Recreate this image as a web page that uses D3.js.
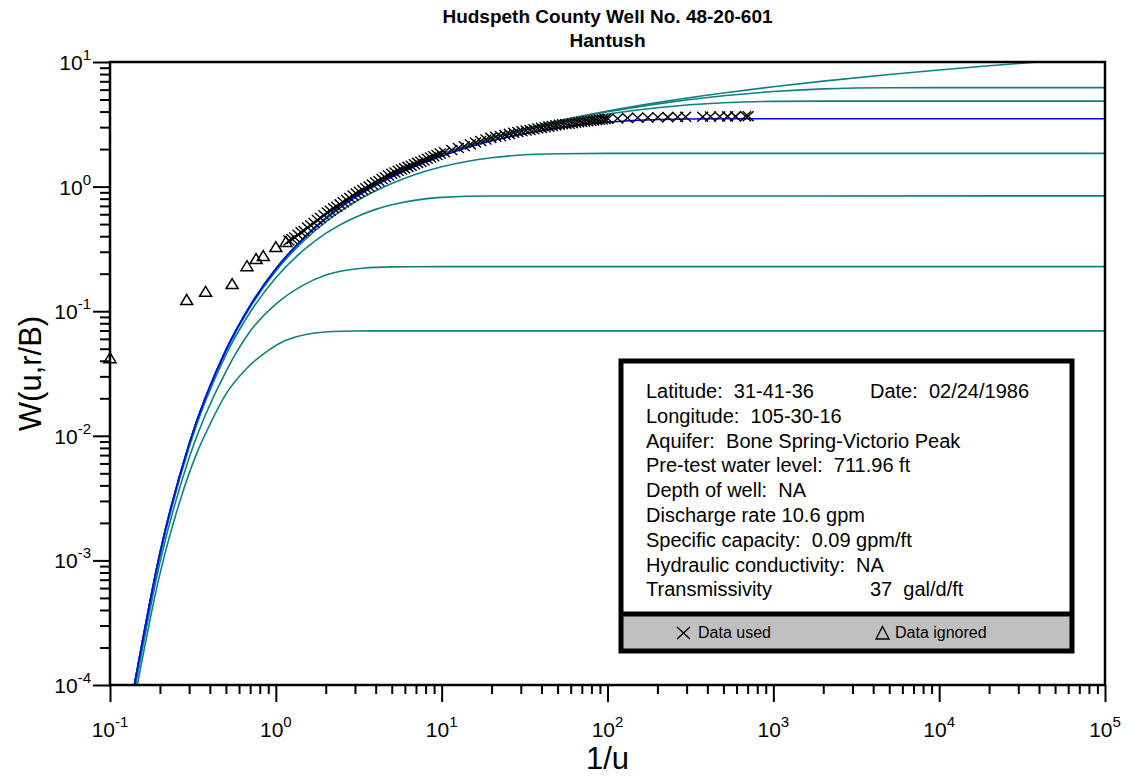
<!DOCTYPE html>
<html>
<head>
<meta charset="utf-8">
<script src="https://cdn.jsdelivr.net/npm/d3@7"></script>
<style>
body { margin: 0; background: #fff; }
svg { display: block; font-family: Arial, "Liberation Sans", sans-serif; }
</style>
</head>
<body>
<script>
// ---- type curves W(u, r/B): x is 1/u ----
let theisU = [0.14, 0.2, 0.3, 0.5, 0.7, 1, 1.5, 2, 3, 5, 7, 10, 20, 30, 50, 100, 200, 500, 1000, 2000, 5000, 10000, 20000, 40000];
let theisW = [0.000099, 0.00115, 0.0086, 0.0489, 0.111, 0.219, 0.398, 0.560, 0.829, 1.223, 1.507, 1.823, 2.468, 2.857, 3.355, 4.038, 4.726, 5.639, 6.332, 7.024, 7.940, 8.633, 9.326, 10.02];

let rb005U = [0.14, 0.2, 0.3, 0.5, 0.7, 1, 1.5, 2, 3, 5, 7, 10, 20, 30, 50, 100, 200, 500, 1000, 2000, 5000, 10000, 100000];
let rb005W = [0.0000988, 0.00115, 0.0086, 0.0489, 0.111, 0.219, 0.398, 0.560, 0.828, 1.221, 1.504, 1.818, 2.458, 2.841, 3.326, 3.985, 4.613, 5.355, 5.797, 6.082, 6.219, 6.228, 6.2285];

let rb01U = [0.14, 0.2, 0.3, 0.5, 0.7, 1, 1.5, 2, 3, 5, 7, 10, 20, 30, 50, 100, 200, 500, 1000, 2000, 10000, 100000];
let rb01W = [0.0000985, 0.00115, 0.0086, 0.0488, 0.1109, 0.2190, 0.397, 0.558, 0.826, 1.2155, 1.495, 1.805, 2.427, 2.793, 3.245, 3.820, 4.297, 4.707, 4.829, 4.853, 4.854, 4.854];

let rb02U = [0.14, 0.2, 0.3, 0.5, 0.7, 1, 1.5, 2, 3, 5, 7, 10, 20, 30, 50, 100, 200, 500, 1000, 100000];
let rb02W = [0.0000985, 0.00114, 0.0086, 0.0487, 0.1105, 0.2179, 0.394, 0.553, 0.816, 1.195, 1.463, 1.753, 2.33, 2.615, 2.957, 3.288, 3.457, 3.504, 3.505, 3.505];

let rb05U = [0.14, 0.2, 0.3, 0.5, 0.7, 1, 1.5, 2, 3, 5, 7, 10, 20, 30, 50, 100, 100000];
let rb05W = [0.0000982, 0.001134, 0.00849, 0.0477, 0.1076, 0.210, 0.3755, 0.521, 0.752, 1.057, 1.254, 1.441, 1.706, 1.791, 1.836, 1.8475, 1.8478];

let rb1U = [0.14, 0.2, 0.3, 0.5, 0.7, 1, 1.5, 2, 3, 4, 5, 7, 10, 20, 100000];
let rb1W = [0.0000958, 0.00109, 0.0081, 0.0445, 0.098, 0.1855, 0.316, 0.421, 0.566, 0.6565, 0.7147, 0.779, 0.819, 0.841, 0.842];

let rb2U = [0.14, 0.2, 0.3, 0.5, 0.7, 1, 1.43, 2, 3.33, 5, 10, 100000];
let rb2W = [0.0000868, 0.00096, 0.00667, 0.0328, 0.069, 0.1139, 0.159, 0.195, 0.2211, 0.2268, 0.2278, 0.2278];

let rb3U = [0.14, 0.2, 0.25, 0.333, 0.4, 0.5, 0.667, 0.889, 1.11, 1.333, 1.78, 2.22, 3, 5, 100000];
let rb3W = [0.0000737, 0.00078, 0.00236, 0.0072, 0.0123, 0.0216, 0.0347, 0.0479, 0.0572, 0.0623, 0.0671, 0.0687, 0.0694, 0.0695, 0.0695];

// ---- field data (x = 1/u, y = W) ----
let usedU = [1.20, 1.25, 1.30, 1.36, 1.42, 1.48, 1.55, 1.62, 1.70, 1.78, 1.86, 1.95, 2.04, 2.13, 2.23, 2.33, 2.44, 2.55, 2.67, 2.79, 2.92, 3.05, 3.19, 3.34, 3.49, 3.65, 3.82, 4.00, 4.18, 4.37, 4.57, 4.78, 5.00, 5.23, 5.47, 5.72, 5.98, 6.26, 6.55, 6.85, 7.16, 7.49, 7.83, 8.19, 8.57, 8.96, 9.37, 9.80,
    10.4, 11.5, 12.6, 13.7, 14.9, 16.0, 17.2, 18.5, 19.8, 21.2, 22.6, 24.1, 25.6, 27.2, 28.8, 30.5, 32.3, 34.1, 36.0, 38.0, 40.0, 42.1, 44.3, 46.5, 48.8, 51.2, 53.6, 56.1, 58.7, 61.4, 64.2, 67.0, 69.9, 72.9, 76.0, 79.2, 82.5, 85.9, 89.4, 93.0, 96.7,
    100.6, 115, 132, 152, 175, 201, 231, 265, 296, 375, 418, 475, 530, 592, 680, 705];
let usedW = [0.37, 0.38, 0.39, 0.41, 0.43, 0.44, 0.47, 0.49, 0.51, 0.54, 0.56, 0.59, 0.62, 0.64, 0.67, 0.69, 0.72, 0.75, 0.78, 0.81, 0.85, 0.88, 0.91, 0.94, 0.97, 1.00, 1.04, 1.08, 1.11, 1.15, 1.19, 1.23, 1.27, 1.30, 1.34, 1.37, 1.40, 1.44, 1.47, 1.51, 1.55, 1.58, 1.62, 1.67, 1.71, 1.75, 1.79, 1.84,
    1.89, 1.97, 2.04, 2.11, 2.19, 2.26, 2.32, 2.39, 2.46, 2.51, 2.55, 2.60, 2.65, 2.70, 2.74, 2.78, 2.82, 2.85, 2.89, 2.93, 2.96, 3.00, 3.03, 3.07, 3.10, 3.13, 3.16, 3.18, 3.20, 3.23, 3.25, 3.28, 3.30, 3.33, 3.35, 3.38, 3.40, 3.42, 3.44, 3.46, 3.48,
    3.50, 3.52, 3.55, 3.57, 3.58, 3.60, 3.61, 3.62, 3.63, 3.64, 3.65, 3.65, 3.66, 3.66, 3.67, 3.67];

let ignoredU = [0.10, 0.29, 0.377, 0.545, 0.67, 0.76, 0.84, 1.0, 1.15];
let ignoredW = [0.042, 0.123, 0.143, 0.165, 0.23, 0.262, 0.277, 0.327, 0.36];

let xTickExp = [-1, 0, 1, 2, 3, 4, 5];
let yTickExp = [-4, -3, -2, -1, 0, 1];

let titleLines = ["Hudspeth County Well No. 48-20-601", "Hantush"];
let infoLines = ["Latitude:  31-41-36", "Longitude:  105-30-16", "Aquifer:  Bone Spring-Victorio Peak",
    "Pre-test water level:  711.96 ft", "Depth of well:  NA", "Discharge rate 10.6 gpm",
    "Specific capacity:  0.09 gpm/ft", "Hydraulic conductivity:  NA", "Transmissivity"];
let infoRight = [[0, "Date:  02/24/1986"], [8, "37  gal/d/ft"]];

let width = 1128, height = 776;
let margin = {top: 62, right: 23, bottom: 91, left: 110};
let teal = "#0e8080";

let svg = d3.select("body").append("svg")
    .attr("width", width)
    .attr("height", height);

let x = d3.scaleLog().domain([0.1, 1e5]).range([margin.left, width - margin.right]);
let y = d3.scaleLog().domain([1e-4, 10]).range([height - margin.bottom, margin.top]);

svg.append("clipPath").attr("id", "plot")
    .append("rect")
    .attr("x", margin.left).attr("y", margin.top)
    .attr("width", width - margin.left - margin.right)
    .attr("height", height - margin.top - margin.bottom);

// ---- axes: major + minor ticks ----
let xMajor = xTickExp.map(e => Math.pow(10, e));
let yMajor = yTickExp.map(e => Math.pow(10, e));
let xMinor = [], yMinor = [];
for (let e of xTickExp.slice(0, -1)) for (let k = 2; k <= 9; k++) xMinor.push(k * Math.pow(10, e));
for (let e of yTickExp.slice(0, -1)) for (let k = 2; k <= 9; k++) yMinor.push(k * Math.pow(10, e));

function tickAxis(axis, values, size) {
    return g => g.call(axis.tickValues(values).tickSize(size).tickFormat(""))
        .call(g => g.select(".domain").remove())
        .call(g => g.selectAll("line").attr("stroke", "#000").attr("stroke-width", 2));
}

let yBase = height - margin.bottom;
svg.append("g").attr("transform", `translate(0,${yBase})`).call(tickAxis(d3.axisBottom(x), xMajor, 17));
svg.append("g").attr("transform", `translate(0,${yBase})`).call(tickAxis(d3.axisBottom(x), xMinor, 9));
svg.append("g").attr("transform", `translate(${margin.left},0)`).call(tickAxis(d3.axisLeft(y), yMajor, 17));
svg.append("g").attr("transform", `translate(${margin.left},0)`).call(tickAxis(d3.axisLeft(y), yMinor, 10));

// tick labels with superscript exponents
svg.append("g").selectAll("text")
    .data(xTickExp)
    .join("text")
    .attr("x", d => x(Math.pow(10, d)))
    .attr("y", yBase + 52)
    .attr("text-anchor", "middle")
    .style("font-size", "21px")
    .call(t => t.append("tspan").text("10"))
    .call(t => t.append("tspan").attr("dy", -10).style("font-size", "15px").text(d => d));

svg.append("g").selectAll("text")
    .data(yTickExp)
    .join("text")
    .attr("x", margin.left - 19)
    .attr("y", d => y(Math.pow(10, d)) + 8)
    .attr("text-anchor", "end")
    .style("font-size", "21px")
    .call(t => t.append("tspan").text("10"))
    .call(t => t.append("tspan").attr("dy", -10).style("font-size", "15px").text(d => d));

svg.append("text")
    .attr("x", (margin.left + width - margin.right) / 2)
    .attr("y", 769)
    .attr("text-anchor", "middle")
    .style("font-size", "31px")
    .text("1/u");

svg.append("text")
    .attr("transform", `translate(41,${(margin.top + yBase) / 2}) rotate(-90)`)
    .attr("text-anchor", "middle")
    .style("font-size", "31px")
    .text("W(u,r/B)");

svg.append("g").selectAll("text")
    .data(titleLines)
    .join("text")
    .attr("x", (margin.left + width - margin.right) / 2)
    .attr("y", (d, i) => 23 + i * 24)
    .attr("text-anchor", "middle")
    .style("font-size", "19px")
    .style("font-weight", "bold")
    .text(d => d);

// ---- type curves ----
let curves = [
    [theisU, theisW, teal],
    [rb005U, rb005W, teal],
    [rb01U, rb01W, teal],
    [rb05U, rb05W, teal],
    [rb1U, rb1W, teal],
    [rb2U, rb2W, teal],
    [rb3U, rb3W, teal],
    [rb02U, rb02W, "#0000ff"]
];
let line = d3.line()
    .x(d => x(d[0]))
    .y(d => y(d[1]))
    .curve(d3.curveMonotoneX);

svg.append("g")
    .attr("clip-path", "url(#plot)")
    .selectAll("path")
    .data(curves)
    .join("path")
    .attr("fill", "none")
    .attr("stroke", d => d[2])
    .attr("stroke-width", 1.6)
    .attr("d", d => line(d3.zip(d[0], d[1])));

// plot frame
svg.append("rect")
    .attr("x", margin.left).attr("y", margin.top)
    .attr("width", width - margin.left - margin.right)
    .attr("height", height - margin.top - margin.bottom)
    .attr("fill", "none")
    .attr("stroke", "#000")
    .attr("stroke-width", 2.5);

// ---- markers ----
let crossPath = "M-5.5,-5L5.5,5M-5.5,5L5.5,-5";
let triPath = "M0,-5.5L6,4.5L-6,4.5Z";

svg.append("g").selectAll("path")
    .data(d3.zip(usedU, usedW))
    .join("path")
    .attr("transform", d => `translate(${x(d[0])},${y(d[1])})`)
    .attr("d", crossPath)
    .attr("fill", "none")
    .attr("stroke", "#000")
    .attr("stroke-width", 1.4);

svg.append("g").selectAll("path")
    .data(d3.zip(ignoredU, ignoredW))
    .join("path")
    .attr("transform", d => `translate(${x(d[0])},${y(d[1])})`)
    .attr("d", triPath)
    .attr("fill", "none")
    .attr("stroke", "#000")
    .attr("stroke-width", 1.5);

// ---- info box ----
let box = svg.append("g");
box.append("rect")
    .attr("x", 621).attr("y", 361)
    .attr("width", 451).attr("height", 290)
    .attr("fill", "#fff");
box.append("rect")
    .attr("x", 621).attr("y", 614)
    .attr("width", 451).attr("height", 37)
    .attr("fill", "#c0c0c0");
box.append("line")
    .attr("x1", 621).attr("x2", 1072)
    .attr("y1", 614).attr("y2", 614)
    .attr("stroke", "#000").attr("stroke-width", 5);
box.append("rect")
    .attr("x", 621).attr("y", 361)
    .attr("width", 451).attr("height", 290)
    .attr("fill", "none")
    .attr("stroke", "#000")
    .attr("stroke-width", 5);

box.selectAll("text.info")
    .data(infoLines)
    .join("text")
    .attr("class", "info")
    .attr("x", 646)
    .attr("y", (d, i) => 398 + i * 24.8)
    .style("font-size", "20px")
    .style("white-space", "pre")
    .text(d => d);

box.selectAll("text.right")
    .data(infoRight)
    .join("text")
    .attr("class", "right")
    .attr("x", 870)
    .attr("y", d => 398 + d[0] * 24.8)
    .style("font-size", "20px")
    .style("white-space", "pre")
    .text(d => d[1]);

box.append("path")
    .attr("transform", "translate(683.5,633)")
    .attr("d", "M-6.5,-6L6.5,6M-6.5,6L6.5,-6")
    .attr("stroke", "#000").attr("stroke-width", 1.4);
box.append("text").attr("x", 698).attr("y", 638).style("font-size", "16px").text("Data used");
box.append("path")
    .attr("transform", "translate(882.5,633)")
    .attr("d", "M0,-6.5L6.5,6L-6.5,6Z")
    .attr("fill", "none")
    .attr("stroke", "#000").attr("stroke-width", 1.4);
box.append("text").attr("x", 895).attr("y", 638).style("font-size", "16px").text("Data ignored");
</script>
</body>
</html>
